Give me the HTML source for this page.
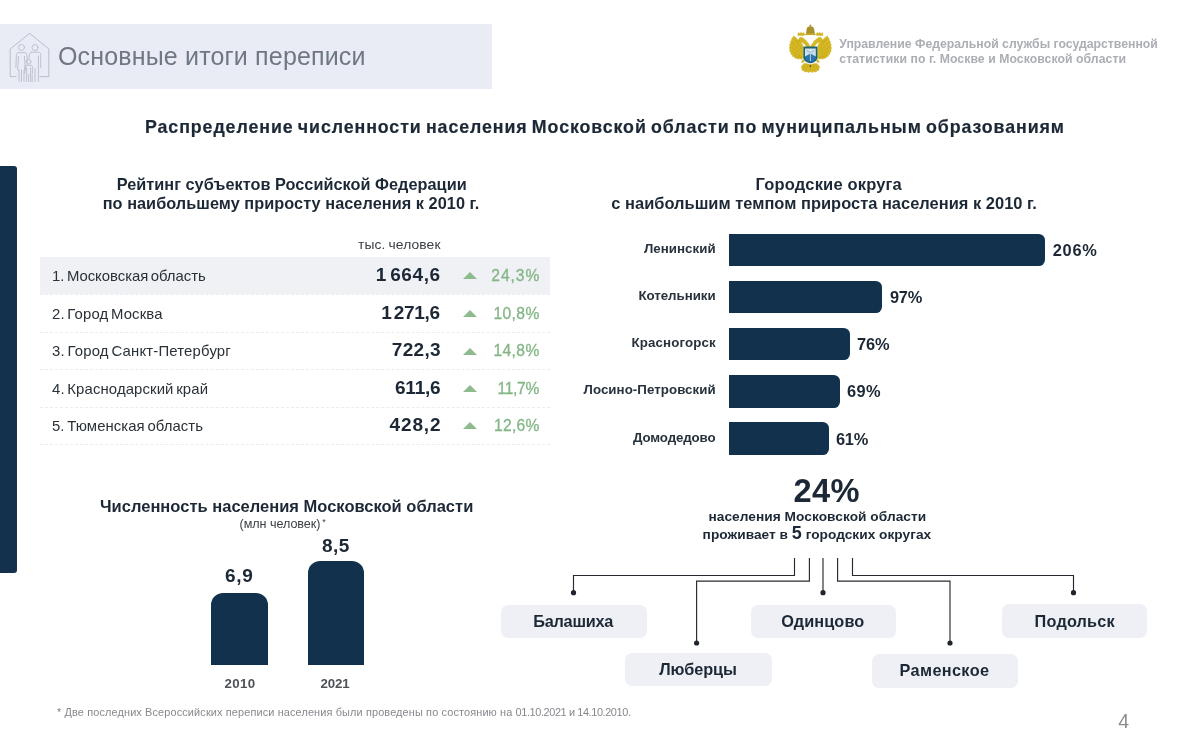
<!DOCTYPE html>
<html lang="ru"><head><meta charset="utf-8"><title>Основные итоги переписи</title><style>
html,body{margin:0;padding:0;background:#fff}
body{width:1200px;height:755px;position:relative;overflow:hidden;font-family:"Liberation Sans",sans-serif}
.t{position:absolute;white-space:nowrap;line-height:1}
.b{position:absolute}
</style></head><body>
<div class="b" style="left:0;top:24px;width:491.5px;height:64.5px;background:#e9ecf5"></div>
<div class="b" style="left:0;top:166px;width:17px;height:407px;background:#13304c;border-radius:0 3px 3px 0"></div>
<div class="b" style="left:40px;top:257px;width:509.5px;height:37.3px;background:#f0f1f5"></div>
<div class="b" style="left:40px;top:294.1px;width:509.5px;height:0;border-top:1px dashed #ebecf0"></div>
<div class="b" style="left:40px;top:331.6px;width:509.5px;height:0;border-top:1px dashed #ebecf0"></div>
<div class="b" style="left:40px;top:369.0px;width:509.5px;height:0;border-top:1px dashed #ebecf0"></div>
<div class="b" style="left:40px;top:406.5px;width:509.5px;height:0;border-top:1px dashed #ebecf0"></div>
<div class="b" style="left:40px;top:443.7px;width:509.5px;height:0;border-top:1px dashed #ebecf0"></div>
<div class="b" style="left:462.5px;top:272.20px;width:0;height:0;border-left:7.3px solid transparent;border-right:7.3px solid transparent;border-bottom:7px solid #8dbb8e"></div>
<div class="b" style="left:462.5px;top:310.20px;width:0;height:0;border-left:7.3px solid transparent;border-right:7.3px solid transparent;border-bottom:7px solid #8dbb8e"></div>
<div class="b" style="left:462.5px;top:347.60px;width:0;height:0;border-left:7.3px solid transparent;border-right:7.3px solid transparent;border-bottom:7px solid #8dbb8e"></div>
<div class="b" style="left:462.5px;top:385.20px;width:0;height:0;border-left:7.3px solid transparent;border-right:7.3px solid transparent;border-bottom:7px solid #8dbb8e"></div>
<div class="b" style="left:462.5px;top:422.20px;width:0;height:0;border-left:7.3px solid transparent;border-right:7.3px solid transparent;border-bottom:7px solid #8dbb8e"></div>
<div class="b" style="left:729px;top:233.6px;width:315.8px;height:32.6px;background:#11314d;border-radius:0 6.3px 6.3px 0"></div>
<div class="b" style="left:729px;top:280.8px;width:152.8px;height:32.6px;background:#11314d;border-radius:0 6.3px 6.3px 0"></div>
<div class="b" style="left:729px;top:327.9px;width:121.3px;height:32.5px;background:#11314d;border-radius:0 6.3px 6.3px 0"></div>
<div class="b" style="left:729px;top:375px;width:111.0px;height:32.5px;background:#11314d;border-radius:0 6.3px 6.3px 0"></div>
<div class="b" style="left:729px;top:422.1px;width:99.6px;height:32.6px;background:#11314d;border-radius:0 6.3px 6.3px 0"></div>
<div class="b" style="left:211px;top:592.7px;width:57.2px;height:72px;background:#11314d;border-radius:12px 12px 0 0"></div>
<div class="b" style="left:307.5px;top:561px;width:56px;height:103.7px;background:#11314d;border-radius:12px 12px 0 0"></div>
<div class="b" style="left:501px;top:604.5px;width:146.0px;height:33.2px;background:#eef0f5;border-radius:7px"></div>
<div class="b" style="left:625px;top:652.7px;width:147.0px;height:33.3px;background:#eef0f5;border-radius:7px"></div>
<div class="b" style="left:750.8px;top:604.5px;width:145.0px;height:33.4px;background:#eef0f5;border-radius:7px"></div>
<div class="b" style="left:871.9px;top:654.3px;width:145.7px;height:33.5px;background:#eef0f5;border-radius:7px"></div>
<div class="b" style="left:1001.6px;top:604.2px;width:145.8px;height:33.5px;background:#eef0f5;border-radius:7px"></div>
<svg class="b" style="left:0;top:0" width="1200" height="755" viewBox="0 0 1200 755" fill="none" stroke="#262b32" stroke-width="1.15">
<path d="M794.5 558V575.5H573.5V592.5"/>
<path d="M809.4 558V581.1H696.6V643"/>
<path d="M823 558V592.5"/>
<path d="M837.6 558V581.1H950V643"/>
<path d="M852.5 558V575.5H1073.5V592.5"/>
<g fill="#1f252c" stroke="none"><circle cx="573.5" cy="592.7" r="2.6"/><circle cx="696.6" cy="643" r="2.6"/><circle cx="823" cy="592.7" r="2.6"/><circle cx="950" cy="643" r="2.6"/><circle cx="1073.5" cy="592.7" r="2.6"/></g>
</svg>
<svg class="b" style="left:0;top:20px" width="60" height="70" viewBox="0 20 60 70" fill="none" stroke="#b4b8c2" stroke-width="0.9" stroke-linejoin="round" stroke-linecap="round">
<path d="M16 76.6H10.2V49L29.7 33.3L48.8 49V76.6H40"/>
<g stroke="#b9bdc7"><circle cx="21.5" cy="47.4" r="3"/>
<circle cx="35" cy="47.6" r="3"/>
<circle cx="28.6" cy="61.8" r="2.3"/>
<path d="M18.4 52.6H24.6C25.8 52.6 26.6 53.4 26.8 54.6L27.4 62M18.4 52.6C17.2 52.6 16.5 53.4 16.4 54.6L15.9 67.5M24.4 56.4L25.6 69.8H24V81.5M18.6 56.4L17.6 69.8H19V81.5M21.5 70V81.5"/>
<path d="M31.6 52.2H38.4C39.8 52.2 40.7 53.1 40.7 54.5V67.5M31.6 52.2C30.6 52.2 30 52.8 29.7 53.6L28.9 58.5M38.4 56V81.5M35 68.5V81.5M32.2 75V81.5"/>
<path d="M26.4 65.3H30.8C31.8 65.3 32.4 65.9 32.4 66.9V73.5M26.4 65.3C25.4 65.3 24.8 65.9 24.8 66.9V73.5M26.6 68V81.5M30.6 68V81.5M28.6 74.5V81.5"/></g>
</svg>
<svg class="b" style="left:780px;top:20px" width="60" height="60" viewBox="0 0 60 60">
<g fill="#d6b922" stroke="#c4a61e" stroke-width="0.4" stroke-linejoin="round">
<path d="M23.2 27.4L22.4 24.2L20.4 21.6L17.6 19.2L15.4 17.2L13.4 15.8L12.9 17.6L11.7 18.4L11.6 20.2L10.4 21.4L10.6 23.2L9.5 24.6L10 26.4L9.2 28L10 29.6L9.6 31.2L10.8 32.4L10.8 34L12.2 34.8L12.6 36.4L14.2 36.8L15 38.2L16.8 38.2L18 39.2L19.6 38.6L21.2 39.2L22.4 38.2L23.6 38.4Z"/>
<path d="M37.6 27.4L38.4 24.2L40.4 21.6L43.2 19.2L45.4 17.2L47.4 15.8L47.9 17.6L49.1 18.4L49.2 20.2L50.4 21.4L50.2 23.2L51.3 24.6L50.8 26.4L51.6 28L50.8 29.6L51.2 31.2L50 32.4L50 34L48.6 34.8L48.2 36.4L46.6 36.8L45.8 38.2L44 38.2L42.8 39.2L41.2 38.6L39.6 39.2L38.4 38.2L37.2 38.4Z"/>
<path d="M24.4 43.2L22.4 45L21 47.2L22 48.6L21.8 50.2L23.6 50.6L24.6 52L26.6 51.6L28.4 52.6L30.4 51.6L32.4 52.6L34.2 51.6L36.2 52L37.2 50.6L39 50.2L38.8 48.6L39.8 47.2L38.4 45L36.4 43.2L30.4 44.4Z"/>
<path d="M19.6 17.8C23 16.8 27.6 20.6 30.4 27.4C33.2 20.6 37.8 16.8 41.2 17.8L42 21.2C38.2 21.6 34.6 24.6 33 29.4H27.8C26.2 24.6 22.6 21.6 18.8 21.2Z"/>
<circle cx="21.2" cy="19.6" r="2.2"/><circle cx="39.6" cy="19.6" r="2.2"/>
<path d="M18.2 20.4L16.6 21.4L18.6 21.6Z"/><path d="M42.6 20.4L44.2 21.4L42.2 21.6Z"/>
<path d="M17.8 15.6L18.2 12.6L20 13.6L21 12.2L22 13.6L23.8 12.6L24.2 15.6Z"/><path d="M36.6 15.6L37 12.6L38.8 13.6L39.8 12.2L40.8 13.6L42.6 12.6L43 15.6Z"/>
<path d="M26.4 15.2C24.8 13.6 22.4 13.2 20.6 13.8M34.4 15.2C36 13.6 38.4 13.2 40.2 13.8" fill="none" stroke="#d0b326" stroke-width="1"/>
<path d="M22.6 39.6L21.4 42.4L23.6 42.2L24.6 40.4Z"/><path d="M38.2 39.6L39.4 42.4L37.2 42.2L36.2 40.4Z"/>
</g>
<g stroke="#b3951b" stroke-width="0.55" fill="none" opacity="0.85">
<path d="M14 18.2L21.6 29M12 22L20.8 31.6M10.8 26.4L20.6 34.2M11.4 31L20.6 36.4M14 35.4L21.4 37.8"/>
<path d="M46.8 18.2L39.2 29M48.8 22L40 31.6M50 26.4L40.2 34.2M49.4 31L40.2 36.4M46.8 35.4L39.4 37.8"/>
<path d="M30.4 44.8V51.4M27.8 44.6L25.6 51.2M33 44.6L35.2 51.2M25.6 44.4L22.8 49.2M35.2 44.4L38 49.2"/>
</g>
<path d="M26.6 9.6C26.6 7.4 28.2 6.2 30.4 6.2C32.6 6.2 34.2 7.4 34.2 9.6L34.8 13.4C33.4 14.6 27.4 14.6 26 13.4Z" fill="#a8902c"/>
<path d="M30.4 4.6V6.6M29.5 5.4H31.3" stroke="#9c8528" stroke-width="0.8"/>
<path d="M26 13H34.8V15H26Z" fill="#bfa428"/>
<path d="M30.4 16.4L32.4 22.4L30.4 24.2L28.4 22.4Z" fill="#fffdf2"/>
<path d="M23.4 26.6H37.4V37.6C37.4 40.8 33.4 43.3 30.4 43.3C27.4 43.3 23.4 40.8 23.4 37.6Z" fill="#1f6272"/>
<path d="M25 28.4H35.8V36.6L30.4 39.6L25 36.6Z" fill="#cde3ee"/>
<path d="M25 36.4L30.4 33.4L35.8 36.4V37.8C35.8 40 32.6 41.8 30.4 41.8C28.2 41.8 25 40 25 37.8Z" fill="#2b74ac"/>
<path d="M30.4 29.8V41" stroke="#e9f3f8" stroke-width="0.7"/>
<path d="M26.4 30.4L30.4 32.4L34.4 30.4" stroke="#a3b4d4" stroke-width="1" fill="none"/>
<path d="M27 32.6L30.4 34.2L33.8 32.6" stroke="#b9cbe2" stroke-width="0.7" fill="none"/>
<circle cx="30.4" cy="46" r="1" fill="#6b5a1c"/>
</svg>

<div class="t" id="h1" style="font-size:25px;top:44.00px;color:#6f7783;letter-spacing:0.165px;left:58.00px;">Основные итоги переписи</div>
<div class="t" id="hr1" style="font-size:12.25px;top:38.00px;color:#abaeb4;font-weight:700;letter-spacing:-0.013px;left:839.30px;">Управление Федеральной службы государственной</div>
<div class="t" id="hr2" style="font-size:12.25px;top:53.00px;color:#abaeb4;font-weight:700;letter-spacing:0.053px;left:839.30px;">статистики по г. Москве и Московской области</div>
<div class="t" id="title" style="font-size:17.8px;top:119.00px;color:#1c2835;font-weight:700;letter-spacing:0.920px;-webkit-text-stroke:0.2px;word-spacing:-1.6px;left:145.00px;">Распределение численности населения Московской области по муниципальным образованиям</div>
<div class="t" id="ls1" style="font-size:16.3px;top:176.00px;color:#1c2835;font-weight:700;letter-spacing:0.026px;left:116.70px;">Рейтинг субъектов Российской Федерации</div>
<div class="t" id="ls2" style="font-size:16.3px;top:195.00px;color:#1c2835;font-weight:700;letter-spacing:0.048px;left:102.70px;">по наибольшему приросту населения к 2010 г.</div>
<div class="t" id="rs1" style="font-size:16.5px;top:176.00px;color:#1c2835;font-weight:700;letter-spacing:0.175px;left:755.60px;">Городские округа</div>
<div class="t" id="rs2" style="font-size:16.45px;top:195.00px;color:#1c2835;font-weight:700;letter-spacing:0.015px;left:611.30px;">с наибольшим темпом прироста населения к 2010 г.</div>
<div class="t" id="th" style="font-size:13.2px;top:238.00px;color:#3a3f46;letter-spacing:0.110px;word-spacing:-1px;transform:scaleX(1.05);transform-origin:left top;left:358.30px;">тыс. человек</div>
<div class="t" id="rl0" style="font-size:14.2px;top:269.00px;color:#2a3138;letter-spacing:-0.030px;word-spacing:-1.5px;transform:scaleX(1.05);transform-origin:left top;left:52.00px;">1. Московская область</div>
<div class="t" id="rv0" style="font-size:17.8px;top:267.00px;color:#1c2835;font-weight:700;letter-spacing:0.560px;word-spacing:-2.5px;transform:scaleX(1.07);transform-origin:right top;right:759.20px;">1 664,6</div>
<div class="t" id="rp0" style="font-size:15.6px;top:268.00px;color:#84b686;letter-spacing:0.945px;-webkit-text-stroke:0.3px #84b686;right:659.75px;">24,3%</div>
<div class="t" id="rl1" style="font-size:14.2px;top:307.00px;color:#2a3138;letter-spacing:0.122px;word-spacing:-1.5px;transform:scaleX(1.05);transform-origin:left top;left:52.00px;">2. Город Москва</div>
<div class="t" id="rv1" style="font-size:17.8px;top:305.00px;color:#1c2835;font-weight:700;letter-spacing:-0.300px;word-spacing:-2.5px;transform:scaleX(1.07);transform-origin:right top;right:760.12px;">1 271,6</div>
<div class="t" id="rp1" style="font-size:15.6px;top:306.00px;color:#84b686;letter-spacing:0.420px;-webkit-text-stroke:0.3px #84b686;right:660.28px;">10,8%</div>
<div class="t" id="rl2" style="font-size:14.2px;top:344.00px;color:#2a3138;letter-spacing:0.169px;word-spacing:-1.5px;transform:scaleX(1.05);transform-origin:left top;left:52.00px;">3. Город Санкт-Петербург</div>
<div class="t" id="rv2" style="font-size:17.8px;top:342.00px;color:#1c2835;font-weight:700;letter-spacing:0.300px;word-spacing:-2.5px;transform:scaleX(1.07);transform-origin:right top;right:759.48px;">722,3</div>
<div class="t" id="rp2" style="font-size:15.6px;top:343.00px;color:#84b686;letter-spacing:0.420px;-webkit-text-stroke:0.3px #84b686;right:660.28px;">14,8%</div>
<div class="t" id="rl3" style="font-size:14.2px;top:382.00px;color:#2a3138;letter-spacing:0.108px;word-spacing:-1.5px;transform:scaleX(1.05);transform-origin:left top;left:52.00px;">4. Краснодарский край</div>
<div class="t" id="rv3" style="font-size:17.8px;top:380.00px;color:#1c2835;font-weight:700;letter-spacing:-0.225px;word-spacing:-2.5px;transform:scaleX(1.07);transform-origin:right top;right:760.04px;">611,6</div>
<div class="t" id="rp3" style="font-size:15.6px;top:381.00px;color:#84b686;letter-spacing:-0.300px;-webkit-text-stroke:0.3px #84b686;right:661.00px;">11,7%</div>
<div class="t" id="rl4" style="font-size:14.2px;top:419.00px;color:#2a3138;letter-spacing:0.072px;word-spacing:-1.5px;transform:scaleX(1.05);transform-origin:left top;left:52.00px;">5. Тюменская область</div>
<div class="t" id="rv4" style="font-size:17.8px;top:417.00px;color:#1c2835;font-weight:700;letter-spacing:0.768px;word-spacing:-2.5px;transform:scaleX(1.07);transform-origin:right top;right:758.98px;">428,2</div>
<div class="t" id="rp4" style="font-size:15.6px;top:418.00px;color:#84b686;letter-spacing:0.270px;-webkit-text-stroke:0.3px #84b686;right:660.43px;">12,6%</div>
<div class="t" id="bl0" style="font-size:13.3px;top:242.00px;color:#27323d;font-weight:700;letter-spacing:0.041px;right:484.36px;">Ленинский</div>
<div class="t" id="bv0" style="font-size:16.4px;top:242.00px;color:#1c2835;font-weight:700;letter-spacing:0.693px;left:1052.80px;">206%</div>
<div class="t" id="bl1" style="font-size:13.3px;top:289.00px;color:#27323d;font-weight:700;letter-spacing:-0.032px;right:484.43px;">Котельники</div>
<div class="t" id="bv1" style="font-size:16.4px;top:289.00px;color:#1c2835;font-weight:700;letter-spacing:-0.300px;left:890.00px;">97%</div>
<div class="t" id="bl2" style="font-size:13.3px;top:336.00px;color:#27323d;font-weight:700;letter-spacing:0.126px;right:484.27px;">Красногорск</div>
<div class="t" id="bv2" style="font-size:16.4px;top:336.00px;color:#1c2835;font-weight:700;letter-spacing:-0.156px;left:857.00px;">76%</div>
<div class="t" id="bl3" style="font-size:13.3px;top:383.00px;color:#27323d;font-weight:700;letter-spacing:0.056px;right:484.34px;">Лосино-Петровский</div>
<div class="t" id="bv3" style="font-size:16.4px;top:383.00px;color:#1c2835;font-weight:700;letter-spacing:0.344px;left:847.00px;">69%</div>
<div class="t" id="bl4" style="font-size:13.3px;top:431.00px;color:#27323d;font-weight:700;letter-spacing:-0.124px;right:484.52px;">Домодедово</div>
<div class="t" id="bv4" style="font-size:16.4px;top:431.00px;color:#1c2835;font-weight:700;letter-spacing:-0.300px;left:836.00px;">61%</div>
<div class="t" id="big" style="font-size:32.6px;top:475.00px;color:#1c2835;font-weight:700;letter-spacing:0.341px;left:793.60px;">24%</div>
<div class="t" id="p1" style="font-size:13.7px;top:510.00px;color:#1c2835;font-weight:700;letter-spacing:0.053px;left:708.40px;">населения Московской области</div>
<div class="t" id="p2" style="font-size:13.7px;top:524.00px;color:#1c2835;font-weight:700;letter-spacing:0.023px;left:702.60px;">проживает в <span style="font-size:18px;letter-spacing:0">5</span> городских округах</div>
<div class="t" id="c0" style="font-size:16.3px;top:613.00px;color:#1c2835;font-weight:700;letter-spacing:-0.263px;left:533.30px;">Балашиха</div>
<div class="t" id="c1" style="font-size:16.3px;top:661.00px;color:#1c2835;font-weight:700;letter-spacing:-0.099px;left:659.30px;">Люберцы</div>
<div class="t" id="c2" style="font-size:16.3px;top:613.00px;color:#1c2835;font-weight:700;letter-spacing:0.123px;left:781.30px;">Одинцово</div>
<div class="t" id="c3" style="font-size:16.3px;top:662.00px;color:#1c2835;font-weight:700;letter-spacing:0.347px;left:899.60px;">Раменское</div>
<div class="t" id="c4" style="font-size:16.3px;top:613.00px;color:#1c2835;font-weight:700;letter-spacing:0.175px;left:1034.60px;">Подольск</div>
<div class="t" id="bt" style="font-size:16.5px;top:498.00px;color:#1c2835;font-weight:700;letter-spacing:0.008px;left:100.00px;">Численность населения Московской области</div>
<div class="t" id="bs" style="font-size:12.6px;top:518.00px;color:#3a3f46;letter-spacing:-0.047px;left:239.50px;">(млн человек)</div>
<div class="t" id="ast" style="font-size:9px;top:518.00px;color:#3a3f46;left:322.20px;">*</div>
<div class="t" id="v0" style="font-size:17.8px;top:568.00px;color:#1c2835;font-weight:700;letter-spacing:0.678px;transform:scaleX(1.07);transform-origin:left top;left:224.80px;">6,9</div>
<div class="t" id="v1" style="font-size:17.8px;top:538.00px;color:#1c2835;font-weight:700;letter-spacing:0.444px;transform:scaleX(1.07);transform-origin:left top;left:321.80px;">8,5</div>
<div class="t" id="y0" style="font-size:13.3px;top:677.00px;color:#4d5258;font-weight:700;letter-spacing:0.302px;left:224.60px;">2010</div>
<div class="t" id="y1" style="font-size:13.3px;top:677.00px;color:#4d5258;font-weight:700;letter-spacing:-0.165px;left:320.60px;">2021</div>
<div class="t" id="fn" style="font-size:10.93px;top:707.00px;color:#85888d;letter-spacing:0.124px;left:57.00px;">* Две последних Всероссийских переписи населения были проведены по состоянию на <span style="letter-spacing:-0.4px">01.10.2021 и 14.10.2010.</span></div>
<div class="t" id="pn" style="font-size:19.5px;top:712.00px;color:#8c8c8c;left:1118.20px;">4</div>
</body></html>
